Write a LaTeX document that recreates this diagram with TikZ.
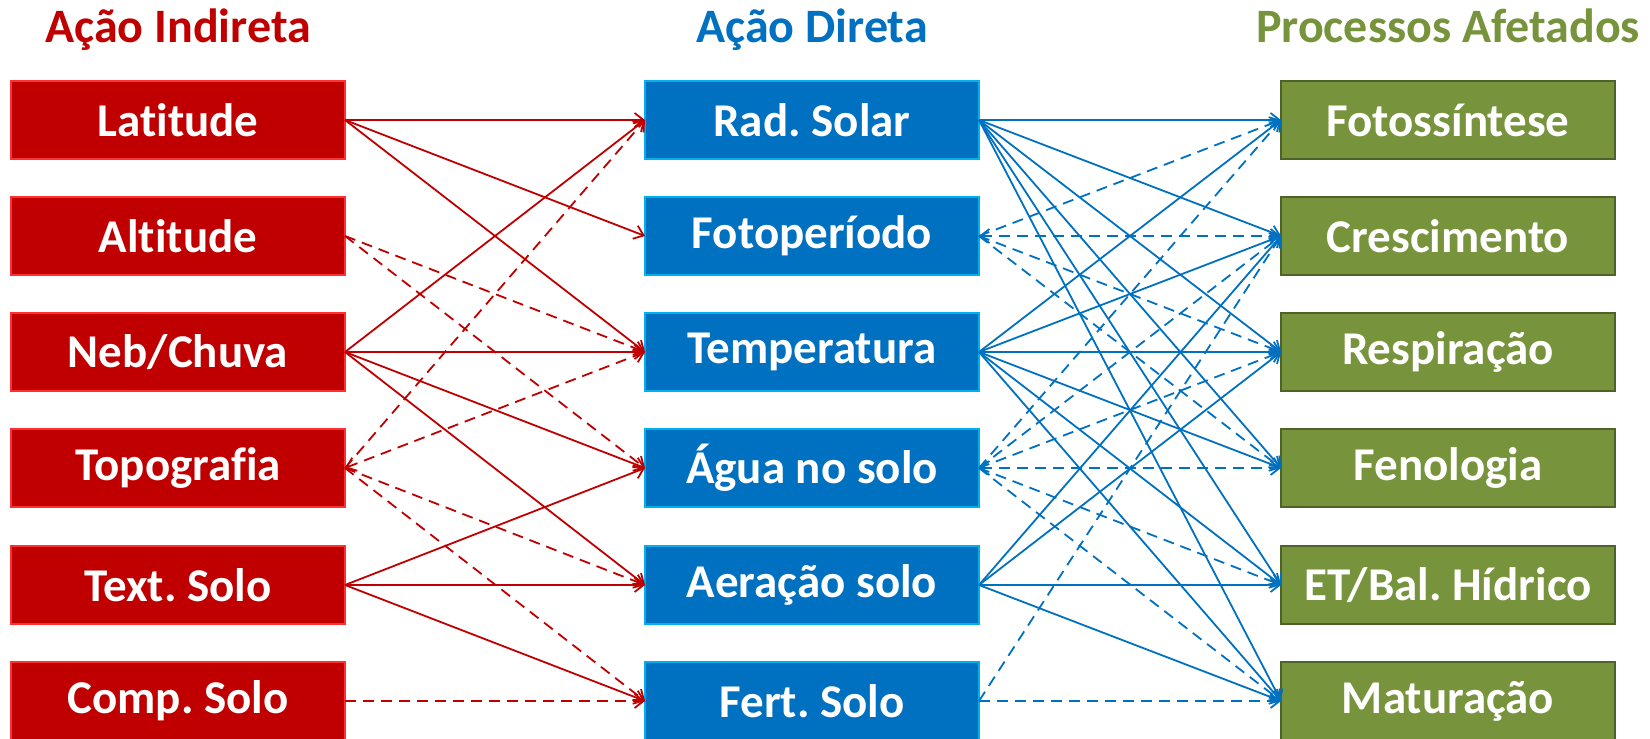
\documentclass[tikz,border=0pt]{standalone}
\usepackage{fontspec}
\setmainfont{Carlito}[Ligatures=NoCommon]
\usetikzlibrary{arrows.meta}
\frenchspacing
\definecolor{indred}{HTML}{C00000}
\definecolor{indedge}{HTML}{FF3030}
\definecolor{dirblue}{HTML}{0070C0}
\definecolor{diredge}{HTML}{00B0F0}
\definecolor{procgreen}{HTML}{77933C}
\definecolor{procedge}{HTML}{4F6228}

\begin{document}
\begin{tikzpicture}[x=0.5pt,y=-0.5pt,
    >={Straight Barb[length=4.5pt,width=7pt]},
    box/.style={minimum width=167pt,minimum height=39pt,inner sep=0pt,outer sep=0pt,
      line width=0.6pt,text=white,font=\fontsize{23.5}{28}\selectfont\bfseries},
    indbox/.style={box,fill=indred,draw=indedge},
    dirbox/.style={box,fill=dirblue,draw=diredge},
    procbox/.style={box,fill=procgreen,draw=procedge},
    title/.style={anchor=base,font=\fontsize{24}{28}\selectfont\bfseries},
    redlink/.style={indred,line width=0.9pt,->},
    bluelink/.style={dirblue,line width=0.9pt,->},
    maybe/.style={dash pattern=on 5.5pt off 3.5pt}]

  \useasboundingbox (0,0) rectangle (1650,739);

  % titles
  \node[title,text=indred] (tind) at (178,42) {Ação Indireta};
  \node[title,text=dirblue] (tdir) at (812,42) {Ação Direta};
  \node[title,text=procgreen] (tproc) at (1448,42) {Processos Afetados};

  % indirect factors
  \node[indbox] (i1) at (178,120) {Latitude};
  \node[indbox] (i2) at (178,236) {Altitude};
  \node[indbox] (i3) at (178,352) {Neb/Chuva};
  \node[indbox] (i4) at (178,468) {Topografia};
  \node[indbox] (i5) at (178,585) {Text. Solo};
  \node[indbox] (i6) at (178,701) {Comp. Solo};

  % direct factors
  \node[dirbox] (d1) at (812,120) {Rad. Solar};
  \node[dirbox] (d2) at (812,236) {Fotoperíodo};
  \node[dirbox] (d3) at (812,352) {Temperatura};
  \node[dirbox] (d4) at (812,468) {Água no solo};
  \node[dirbox] (d5) at (812,585) {Aeração solo};
  \node[dirbox] (d6) at (812,701) {Fert. Solo};

  % processes
  \node[procbox] (p1) at (1448,120) {Fotossíntese};
  \node[procbox] (p2) at (1448,236) {Crescimento};
  \node[procbox] (p3) at (1448,352) {Respiração};
  \node[procbox] (p4) at (1448,468) {Fenologia};
  \node[procbox] (p5) at (1448,585) {ET/Bal. Hídrico};
  \node[procbox] (p6) at (1448,701) {Maturação};

  % indirect -> direct
  \draw[redlink] (i1.east) -- (d1.west);
  \draw[redlink] (i1.east) -- (d2.west);
  \draw[redlink] (i1.east) -- (d3.west);
  \draw[redlink,maybe] (i2.east) -- (d3.west);
  \draw[redlink,maybe] (i2.east) -- (d4.west);
  \draw[redlink] (i3.east) -- (d1.west);
  \draw[redlink] (i3.east) -- (d3.west);
  \draw[redlink] (i3.east) -- (d4.west);
  \draw[redlink] (i3.east) -- (d5.west);
  \draw[redlink,maybe] (i4.east) -- (d1.west);
  \draw[redlink,maybe,<->] (i4.east) -- (d3.west);
  \draw[redlink,maybe] (i4.east) -- (d5.west);
  \draw[redlink,maybe] (i4.east) -- (d6.west);
  \draw[redlink] (i5.east) -- (d4.west);
  \draw[redlink] (i5.east) -- (d5.west);
  \draw[redlink] (i5.east) -- (d6.west);
  \draw[redlink,maybe] (i6.east) -- (d6.west);

  % direct -> processes
  \draw[bluelink] (d1.east) -- (p1.west);
  \draw[bluelink] (d1.east) -- (p2.west);
  \draw[bluelink] (d1.east) -- (p3.west);
  \draw[bluelink] (d1.east) -- (p4.west);
  \draw[bluelink] (d1.east) -- (p5.west);
  \draw[bluelink] (d1.east) -- (p6.west);
  \draw[bluelink,maybe] (d2.east) -- (p1.west);
  \draw[bluelink,maybe,<->] (d2.east) -- (p2.west);
  \draw[bluelink,maybe] (d2.east) -- (p3.west);
  \draw[bluelink,maybe] (d2.east) -- (p4.west);
  \draw[bluelink] (d3.east) -- (p1.west);
  \draw[bluelink] (d3.east) -- (p2.west);
  \draw[bluelink] (d3.east) -- (p3.west);
  \draw[bluelink] (d3.east) -- (p4.west);
  \draw[bluelink] (d3.east) -- (p5.west);
  \draw[bluelink] (d3.east) -- (p6.west);
  \draw[bluelink,maybe] (d4.east) -- (p1.west);
  \draw[bluelink,maybe] (d4.east) -- (p2.west);
  \draw[bluelink,maybe] (d4.east) -- (p3.west);
  \draw[bluelink,maybe,<->] (d4.east) -- (p4.west);
  \draw[bluelink,maybe] (d4.east) -- (p5.west);
  \draw[bluelink,maybe] (d4.east) -- (p6.west);
  \draw[bluelink] (d5.east) -- (p2.west);
  \draw[bluelink] (d5.east) -- (p3.west);
  \draw[bluelink] (d5.east) -- (p5.west);
  \draw[bluelink] (d5.east) -- (p6.west);
  \draw[bluelink,maybe] (d6.east) -- (p2.west);
  \draw[bluelink,maybe] (d6.east) -- (p6.west);

\end{tikzpicture}
\end{document}
